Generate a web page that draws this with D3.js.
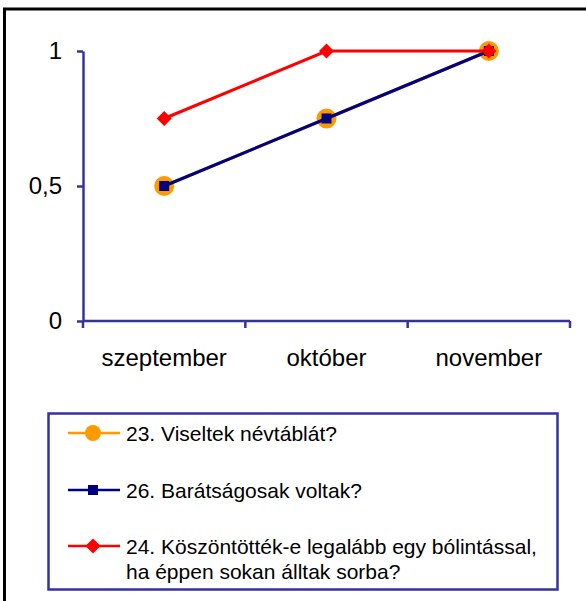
<!DOCTYPE html>
<html>
<head>
<meta charset="utf-8">
<script src="https://cdn.jsdelivr.net/npm/d3@7"></script>
<style>
  html, body { margin: 0; padding: 0; background: #fff; }
  svg { display: block; font-family: "Liberation Sans", Arial, sans-serif; }
</style>
</head>
<body>
<svg id="chart" width="586" height="601"></svg>
<script>
// ---- data ----
const categories = ["szeptember", "október", "november"];
const seriesNames = [
  "23. Viseltek névtáblát?",
  "26. Barátságosak voltak?",
  "24. Köszöntötték-e legalább egy bólintással, ha éppen sokan álltak sorba?"
];
const seriesLegendLines = [
  ["23. Viseltek névtáblát?"],
  ["26. Barátságosak voltak?"],
  ["24. Köszöntötték-e legalább egy bólintással,", "ha éppen sokan álltak sorba?"]
];
const values23 = [0.5, 0.75, 1];
const values26 = [0.5, 0.75, 1];
const values24 = [0.75, 1, 1];
const yTicks = [0, 0.5, 1];
const yTickLabels = ["0", "0,5", "1"];

const series = [
  { name: seriesNames[0], lines: seriesLegendLines[0], values: values23, color: "#FF9900", marker: "circle" },
  { name: seriesNames[1], lines: seriesLegendLines[1], values: values26, color: "#000080", marker: "square" },
  { name: seriesNames[2], lines: seriesLegendLines[2], values: values24, color: "#FF0000", marker: "diamond" }
];

const svg = d3.select("#chart");
const axisColor = "#333399";

// outer border
svg.append("rect")
  .attr("x", 4.5).attr("y", 9)
  .attr("width", 600).attr("height", 620)
  .attr("fill", "none").attr("stroke", "#000").attr("stroke-width", 3);

const x = d3.scaleBand().domain(categories).range([83, 570]).paddingInner(0).paddingOuter(0);
const y = d3.scaleLinear().domain([0, 1]).range([321, 51]);

// y axis
const yAxis = d3.axisLeft(y)
  .tickValues(yTicks)
  .tickFormat((d, i) => yTickLabels[i])
  .tickSizeInner(6).tickSizeOuter(0).tickPadding(15);
const gy = svg.append("g").attr("transform", "translate(83,0)").call(yAxis);
gy.select(".domain").attr("stroke", axisColor).attr("stroke-width", 2.5);
gy.selectAll(".tick line").attr("stroke", axisColor).attr("stroke-width", 2.5);
gy.selectAll(".tick text").attr("fill", "#000").attr("font-size", 24)
  .attr("font-family", "Liberation Sans, Arial, sans-serif");

// x axis (Excel style: ticks at category boundaries)
const gx = svg.append("g").attr("transform", "translate(0," + y(0) + ")");
gx.append("line")
  .attr("x1", x.range()[0]).attr("x2", x.range()[1])
  .attr("y1", 0).attr("y2", 0)
  .attr("stroke", axisColor).attr("stroke-width", 2.5);
const boundaries = categories.map(c => x(c)).concat([x(categories[categories.length - 1]) + x.bandwidth()]);
gx.selectAll(".xt").data(boundaries).enter().append("line")
  .attr("x1", d => d).attr("x2", d => d)
  .attr("y1", 0).attr("y2", 7)
  .attr("stroke", axisColor).attr("stroke-width", 2.5);
gx.selectAll(".xl").data(categories).enter().append("text")
  .attr("x", d => x(d) + x.bandwidth() / 2)
  .attr("y", 45)
  .attr("text-anchor", "middle")
  .attr("font-size", 24)
  .attr("fill", "#000")
  .text(d => d);

const cx = c => x(c) + x.bandwidth() / 2;

function drawMarker(g, type, color, px, py, scale) {
  scale = scale || 1;
  if (type === "circle") {
    g.append("circle").attr("cx", px).attr("cy", py).attr("r", 10 * scale).attr("fill", color);
  } else if (type === "square") {
    const s = 10 * scale;
    g.append("rect").attr("x", px - s / 2).attr("y", py - s / 2).attr("width", s).attr("height", s).attr("fill", color);
  } else if (type === "diamond") {
    const r = 7.5 * scale;
    g.append("path")
      .attr("d", `M${px},${py - r}L${px + r},${py}L${px},${py + r}L${px - r},${py}Z`)
      .attr("fill", color);
  }
}

const line = d3.line().x((d, i) => cx(categories[i])).y(d => y(d));

series.forEach(s => {
  const g = svg.append("g");
  g.append("path").datum(s.values)
    .attr("d", line)
    .attr("fill", "none")
    .attr("stroke", s.color)
    .attr("stroke-width", 3);
  s.values.forEach((v, i) => drawMarker(g, s.marker, s.color, cx(categories[i]), y(v)));
});

// legend
const legend = svg.append("g");
legend.append("rect")
  .attr("x", 48.5).attr("y", 413.5).attr("width", 509).attr("height", 176)
  .attr("fill", "#fff").attr("stroke", axisColor).attr("stroke-width", 2.5);

const legendY = [433, 490, 546];
series.forEach((s, i) => {
  const ly = legendY[i];
  const g = legend.append("g");
  g.append("line").attr("x1", 68).attr("x2", 120).attr("y1", ly).attr("y2", ly)
    .attr("stroke", s.color).attr("stroke-width", 2.5);
  drawMarker(g, s.marker, s.color, 93, ly, s.marker === "circle" ? 0.8 : 1);
  const t = g.append("text").attr("x", 126).attr("y", ly + 8).attr("font-size", 21).attr("fill", "#000");
  s.lines.forEach((ln, j) => {
    t.append("tspan").attr("x", 126).attr("dy", j === 0 ? 0 : 25).text(ln);
  });
});
</script>
</body>
</html>
